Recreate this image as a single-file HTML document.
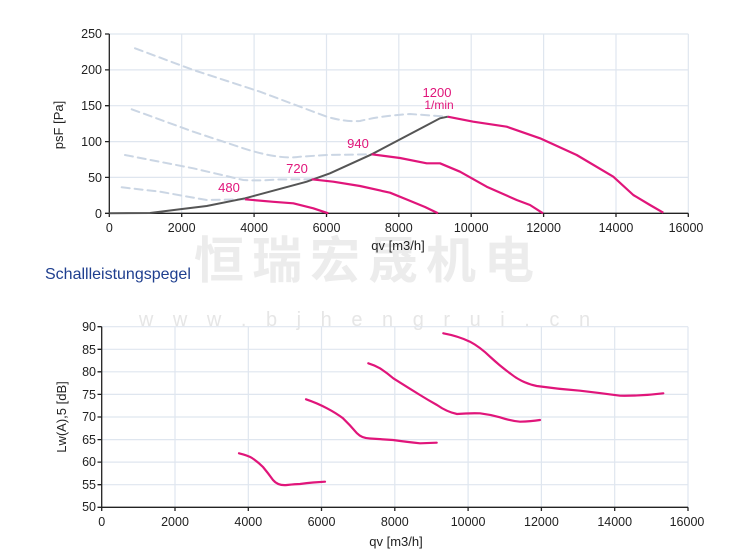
<!DOCTYPE html>
<html><head><meta charset="utf-8"><style>
html,body{margin:0;padding:0;background:#fff;}
svg{display:block;font-family:"Liberation Sans",Arial,sans-serif;}
</style></head><body>
<svg width="750" height="558" viewBox="0 0 750 558" xmlns="http://www.w3.org/2000/svg">
<rect width="750" height="558" fill="#fff"/>
<text x="368" y="278" text-anchor="middle" font-family="'Noto Sans CJK SC',sans-serif" font-size="50" font-weight="bold" fill="#ececec" letter-spacing="8">恒瑞宏晟机电</text>
<text x="368" y="326" text-anchor="middle" font-size="20" fill="#e6e6e6" letter-spacing="7">w w w . b j h e n g r u i . c n</text>

<g stroke="#dfe6ef" stroke-width="1.2" fill="none">
<path d="M181.7 34V213.3M254.1 34V213.3M326.5 34V213.3M398.8 34V213.3M471.2 34V213.3M543.6 34V213.3M616 34V213.3M688.3 34V213.3"/>
<path d="M109.3 34H688.3M109.3 69.9H688.3M109.3 105.7H688.3M109.3 141.6H688.3M109.3 177.4H688.3"/>
</g>
<g stroke="#222" stroke-width="1.3" fill="none">
<path d="M109.3 34V213.3H688.3"/>
<path d="M105 34H109.3M105 69.9H109.3M105 105.7H109.3M105 141.6H109.3M105 177.4H109.3M105 213.3H109.3"/>
<path d="M109.3 213.3V217M181.7 213.3V217M254.1 213.3V217M326.5 213.3V217M398.8 213.3V217M471.2 213.3V217M543.6 213.3V217M616 213.3V217M688.3 213.3V217"/>
</g>
<g font-size="12.5" fill="#222" text-anchor="end">
<text x="102" y="38">250</text><text x="102" y="74">200</text><text x="102" y="110">150</text>
<text x="102" y="146">100</text><text x="102" y="182">50</text><text x="102" y="218">0</text>
</g>
<g font-size="12.5" fill="#222" text-anchor="middle">
<text x="109.3" y="232">0</text><text x="181.7" y="232">2000</text><text x="254.1" y="232">4000</text>
<text x="326.5" y="232">6000</text><text x="398.8" y="232">8000</text><text x="471.2" y="232">10000</text>
<text x="543.6" y="232">12000</text><text x="616" y="232">14000</text><text x="686" y="232">16000</text>
</g>
<text x="398" y="250" font-size="13" fill="#222" text-anchor="middle">qv [m3/h]</text>
<text transform="translate(63,125) rotate(-90)" font-size="13" fill="#222" text-anchor="middle">psF [Pa]</text>

<g stroke="#cbd6e4" stroke-width="2" fill="none" stroke-dasharray="8,5" stroke-linecap="round">
<path d="M135 48.3 L193.3 70 L260 91.7 L326.7 116.7 Q345 122 360 121 Q380 116 410 114 L447.7 116.7"/>
<path d="M131.7 109.3 L193.3 131.7 L243.3 148.3 Q280 160 300 156.7 L326.7 155 L371.7 154.3"/>
<path d="M125 155 L193.3 168.3 L243.3 180 Q260 181 276.7 179.5 L311.7 179.3"/>
<path d="M121.7 187.3 L160 191.7 L206.7 200 L245 199.3"/>
</g>
<polyline fill="none" stroke="#555" stroke-width="2" points="109.3,213.3 150,213 180,209.3 206.7,206 245,198.3 306.7,181.7 330,173.3 371.7,154.3 440,118.3 447.7,116.7"/>
<g fill="none" stroke="#e0157a" stroke-width="2.2" stroke-linejoin="round">
<polyline points="245,199.3 273.3,201.8 293.3,203.3 313.3,208.3 328.3,213.3"/>
<polyline points="311.7,179.3 333.3,181.7 360,186 390,192.7 408,200 425,207 438,213.3"/>
<polyline points="371.7,154.3 400,158 426.7,163.3 440,163.3 460,171.7 486.7,186.7 516.7,200 530,205 543,213.3"/>
<polyline points="447.7,116.7 473.3,121.7 506.7,126.7 540,138.3 576.7,155 613.3,176.7 633.3,195 650,205 663.3,212.7"/>
</g>
<g fill="#e0157a" font-size="13" text-anchor="middle">
<text x="229" y="192">480</text><text x="297" y="173">720</text><text x="358" y="148">940</text>
<text x="437" y="97">1200</text><text x="439" y="109" font-size="12">1/min</text>
</g>

<text x="45" y="279" font-size="16" fill="#1f3f8f">Schallleistungspegel</text>

<g stroke="#dfe6ef" stroke-width="1.2" fill="none">
<path d="M175 326.7V507.3M248.3 326.7V507.3M321.5 326.7V507.3M394.8 326.7V507.3M468.1 326.7V507.3M541.4 326.7V507.3M614.7 326.7V507.3M688 326.7V507.3"/>
<path d="M101.7 326.7H688M101.7 349.3H688M101.7 371.8H688M101.7 394.4H688M101.7 417H688M101.7 439.6H688M101.7 462.1H688M101.7 484.7H688"/>
</g>
<g stroke="#222" stroke-width="1.3" fill="none">
<path d="M101.7 326.7V507.3H688"/>
<path d="M97.5 326.7H101.7M97.5 349.3H101.7M97.5 371.8H101.7M97.5 394.4H101.7M97.5 417H101.7M97.5 439.6H101.7M97.5 462.1H101.7M97.5 484.7H101.7M97.5 507.3H101.7"/>
<path d="M101.7 507.3V511M175 507.3V511M248.3 507.3V511M321.5 507.3V511M394.8 507.3V511M468.1 507.3V511M541.4 507.3V511M614.7 507.3V511M688 507.3V511"/>
</g>
<g font-size="12.5" fill="#222" text-anchor="end">
<text x="96" y="331">90</text><text x="96" y="354">85</text><text x="96" y="376">80</text>
<text x="96" y="399">75</text><text x="96" y="421">70</text><text x="96" y="444">65</text>
<text x="96" y="466">60</text><text x="96" y="489">55</text><text x="96" y="511">50</text>
</g>
<g font-size="12.5" fill="#222" text-anchor="middle">
<text x="101.7" y="526">0</text><text x="175" y="526">2000</text><text x="248.3" y="526">4000</text>
<text x="321.5" y="526">6000</text><text x="394.8" y="526">8000</text><text x="468.1" y="526">10000</text>
<text x="541.4" y="526">12000</text><text x="614.7" y="526">14000</text><text x="687" y="526">16000</text>
</g>
<text x="396" y="546" font-size="13" fill="#222" text-anchor="middle">qv [m3/h]</text>
<text transform="translate(66,417) rotate(-90)" font-size="13" fill="#222" text-anchor="middle">Lw(A),5 [dB]</text>

<g fill="none" stroke="#e0157a" stroke-width="2.2" stroke-linejoin="round" stroke-linecap="round">
<path d="M239 453.3 Q248 455.5 252 458 Q258 462 263 467 Q268 473 273 480 Q278 486 287 485 Q296 484 300 484 Q307 483 313 482.5 L325 481.7"/>
<path d="M306 399.3 Q317 403 327 408.3 Q336 413 343 418.3 Q350 425 357 433.3 Q362 438.5 370 438.5 L393 440 Q408 442 420 443.3 L436.7 442.7"/>
<path d="M368.3 363.3 Q374 365 380 368.3 Q387 373 393.3 378.3 Q407 387 420 395 Q428 400 437 405 Q447 412 457 414 Q468 413 480 413.3 Q490 414.5 500 417.3 Q511 421 520 421.7 Q531 421.5 540 420"/>
<path d="M443.3 333.3 Q458 336 470 341.7 Q480 347 490 356.7 Q500 366 510 373.3 Q522 383 536.7 386 Q558 389 580 390.7 Q600 393 620 395.7 Q642 396 663.3 393.3"/>
</g>
</svg>
</body></html>
